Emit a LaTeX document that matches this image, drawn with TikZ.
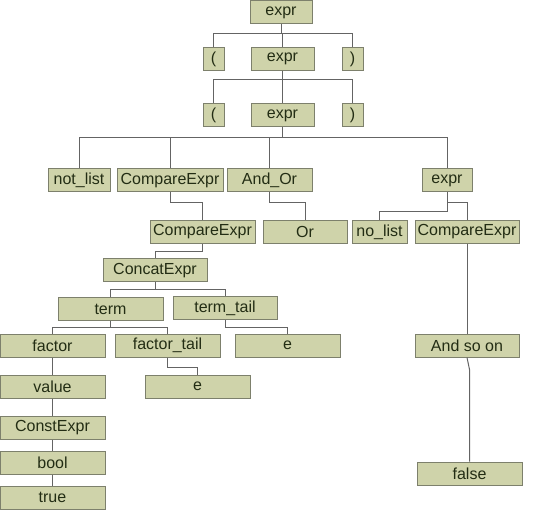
\documentclass[tikz,border=0pt]{standalone}
\usepackage{fontspec}
\setmainfont{Liberation Sans}
\usepackage{tikz}
\usetikzlibrary{positioning,calc}
\definecolor{treefill}{RGB}{207,211,170}
\definecolor{treeedge}{RGB}{125,128,108}
\definecolor{treetext}{RGB}{35,45,20}
\definecolor{treeline}{RGB}{100,100,100}
\tikzset{
  tok/.style={
    rectangle, draw=treeedge, line width=1pt, fill=treefill,
    minimum height=23pt, inner sep=0pt, text=treetext,
    font=\fontsize{16}{18}\selectfont, text centered
  },
  wide/.style={tok, minimum width=105pt},
  link/.style={draw=treeline, line width=1pt}
}
\begin{document}
\begin{tikzpicture}[x=1pt, y=1pt]
\useasboundingbox (0,0) rectangle (540,-510);

% top of the tree
\node[tok, minimum width=62pt] (expr1) at (281,-12.5) {expr};
\node[tok, minimum width=21pt] (lp1)   at (213.5,-59) {(};
\node[tok, minimum width=63pt] (expr2) at (282.5,-59) {expr};
\node[tok, minimum width=21pt] (rp1)   at (352.5,-59) {)};
\node[tok, minimum width=21pt] (lp2)   at (213.5,-115.5) {(};
\node[tok, minimum width=63pt] (expr3) at (282.5,-115.5) {expr};
\node[tok, minimum width=21pt] (rp2)   at (352.5,-115.5) {)};

% fourth row
\node[tok, minimum width=62pt]  (notlist) at (79,-180.5) {not\_list};
\node[tok, minimum width=106pt] (cmp1)    at (170,-180.5) {CompareExpr};
\node[tok, minimum width=85pt]  (andor)   at (269.5,-180.5) {And\_Or};
\node[tok, minimum width=50pt]  (expr4)   at (447,-180.5) {expr};

% fifth row
\node[wide]                     (cmp2)   at (202.5,-232) {CompareExpr};
\node[tok, minimum width=84pt]  (orop)   at (305,-232) {Or};
\node[tok, minimum width=55pt]  (nolist) at (379.5,-232) {no\_list};
\node[tok, minimum width=104pt] (cmp3)   at (467,-232) {CompareExpr};

% left subtree
\node[tok, minimum width=104pt] (concat)   at (155,-270.5) {ConcatExpr};
\node[wide]                     (term)     at (110.5,-309) {term};
\node[tok, minimum width=104pt] (termtail) at (225,-308) {term\_tail};
\node[wide] (factor)     at (52.5,-345.5) {factor};
\node[wide] (factortail) at (167.5,-345.5) {factor\_tail};
\node[wide] (eps1)       at (287.5,-345.5) {e};
\node[wide] (eps2)       at (197.5,-386.5) {e};
\node[wide] (value)      at (52.5,-386.5) {value};
\node[wide] (constexpr)  at (52.5,-427.5) {ConstExpr};
\node[wide] (boolv)      at (52.5,-462.5) {bool};
\node[wide] (truev)      at (52.5,-497.5) {true};

% right subtree
\node[tok, minimum width=104pt] (andso)  at (467,-345.5) {And so on};
\node[wide]                     (falsev) at (469.5,-473.5) {false};

% connectors
\draw[link] (expr1.south) -- ++(0,-9) -| (lp1.north);
\draw[link] (expr1.south) -- ++(0,-9) -| (rp1.north);
\draw[link] (expr1.south) -- ++(0,-9) -| (expr2.north);
\draw[link] (expr2.south) -- ++(0,-9) -| (lp2.north);
\draw[link] (expr2.south) -- ++(0,-9) -| (rp2.north);
\draw[link] (expr2.south) -- ++(0,-9) -| (expr3.north);
\draw[link] (expr3.south) -- ++(0,-10) -| (notlist.north);
\draw[link] (expr3.south) -- ++(0,-10) -| (cmp1.north);
\draw[link] (expr3.south) -- ++(0,-10) -| (andor.north);
\draw[link] (expr3.south) -- ++(0,-10) -| (expr4.north);
\draw[link] (cmp1.south)  -- ++(0,-10) -| (cmp2.north);
\draw[link] (andor.south) -- ++(0,-10) -| (orop.north);
\draw[link] (expr4.south) -- ++(0,-10) -| (cmp3.north);
\draw[link] (expr4.south) -- ++(0,-19) -| (nolist.north);
\draw[link] (cmp2.south)  -- ++(0,-8) -| (concat.north);
\draw[link] (concat.south) -- ++(0,-7) -| (term.north);
\draw[link] (concat.south) -- ++(0,-7) -| (termtail.north);
\draw[link] (term.south) -- ++(0,-6) -| (factor.north);
\draw[link] (term.south) -- ++(0,-6) -| (factortail.north);
\draw[link] (termtail.south) -- ++(0,-7) -| (eps1.north);
\draw[link] (factortail.south) -- ++(0,-10) -| (eps2.north);
\draw[link] (factor) -- (value);
\draw[link] (value) -- (constexpr);
\draw[link] (constexpr) -- (boolv);
\draw[link] (boolv) -- (truev);
\draw[link] (cmp3) -- (andso);
\draw[link] (andso.south) -- ($(andso.south -| falsev.north)+(0,-12)$) -- (falsev.north);
\end{tikzpicture}
\end{document}
